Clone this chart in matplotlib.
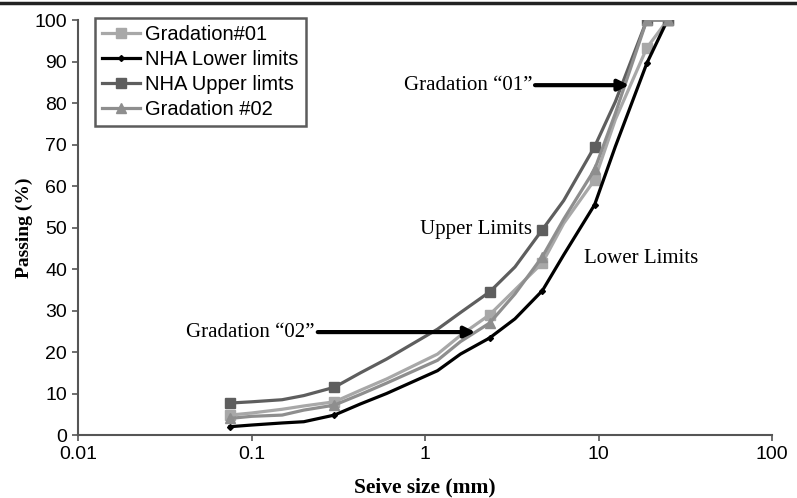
import matplotlib.pyplot as plt
from matplotlib.lines import Line2D

# sieve sizes (mm) and passing (%)
sieve = [0.075, 0.1, 0.15, 0.2, 0.3, 0.425, 0.6, 1.18, 1.6, 2.36, 3.3, 4.75, 6.3, 9.5, 12.5, 19, 25]
marked = [0, 4, 9, 11, 13, 15, 16]   # points that carry a marker

grad01 = [4.8, 5.3, 6.2, 7.0, 8.0, 10.8, 13.5, 19.5, 24.0, 29.0, 35.0, 41.5, 51.0, 61.5, 76.0, 93.3, 100]
lower = [2.0, 2.4, 2.9, 3.2, 4.8, 7.5, 10.0, 15.5, 19.5, 23.4, 28.0, 34.8, 43.4, 55.5, 69.5, 89.6, 100]
upper = [7.7, 8.0, 8.5, 9.5, 11.5, 15.0, 18.3, 25.5, 29.5, 34.5, 40.5, 49.5, 56.5, 69.5, 80.3, 100, 100]
grad02 = [4.0, 4.5, 4.8, 6.0, 7.2, 9.8, 12.5, 18.0, 22.5, 27.0, 34.0, 43.0, 52.0, 64.0, 77.5, 100, 100]

xticks = [0.01, 0.1, 1, 10, 100]
xtick_labels = ["0.01", "0.1", "1", "10", "100"]
yticks = list(range(0, 101, 10))

plt.rcParams['font.family'] = ['Liberation Sans', 'DejaVu Sans']

fig = plt.figure(figsize=(7.97, 4.98), dpi=100)
ax = fig.add_axes([0.098, 0.1265, 0.8706, 0.8333])

ax.plot(sieve, grad01, color="#a8a8a8", lw=2.3, marker="s", ms=6.5,
        markevery=marked, label="Gradation#01")
ax.plot(sieve, lower, color="black", lw=2.3, marker="D", ms=3,
        markevery=marked, label="NHA Lower limits")
ax.plot(sieve, upper, color="#5e5e5e", lw=2.3, marker="s", ms=6.5,
        markevery=marked, label="NHA Upper limts")
ax.plot(sieve, grad02, color="#8e8e8e", lw=2.3, marker="^", ms=7,
        markevery=marked, label="Gradation #02")

ax.set_xscale("log")
ax.set_xlim(0.01, 100)
ax.set_ylim(0, 100)
ax.set_xticks(xticks)
ax.set_xticklabels(xtick_labels)
ax.set_yticks(yticks)
ax.minorticks_off()
ax.tick_params(labelsize=14, length=4, width=1.2, color="#555555", pad=4)

for s in ["top", "right"]:
    ax.spines[s].set_visible(False)
for s in ["left", "bottom"]:
    ax.spines[s].set_color("#555555")
    ax.spines[s].set_linewidth(1.5)

ax.set_xlabel("Seive size (mm)", family="Liberation Serif", fontweight="bold", fontsize=15.5, labelpad=10)
ax.set_ylabel("Passing (%)", family="Liberation Serif", fontweight="bold", fontsize=14, labelpad=1)

leg = ax.legend(loc="upper left", bbox_to_anchor=(0.024, 1.005), fontsize=14.5, frameon=True,
                fancybox=False, handlelength=1.9, handletextpad=0.25, labelspacing=0.3,
                borderpad=0.35, borderaxespad=0)
leg.get_frame().set_edgecolor("#333333")
leg.get_frame().set_linewidth(1.8)

serif = dict(family="Liberation Serif", fontsize=15)
arrow = dict(arrowstyle="-|>", color="black", lw=3, mutation_scale=16, shrinkA=0, shrinkB=0)
ax.annotate("Gradation \u201c01\u201d", xy=(15.0, 84.3), xytext=(4.15, 84.3),
            ha="right", va="center", arrowprops=arrow, **serif)
ax.annotate("Gradation \u201c02\u201d", xy=(1.95, 24.8), xytext=(0.232, 24.8),
            ha="right", va="center", arrowprops=arrow, **serif)
ax.text(0.935, 49.6, "Upper Limits", ha="left", va="center", **serif)
ax.text(8.2, 42.6, "Lower Limits", ha="left", va="center", **serif)

fig.add_artist(Line2D([0, 1], [0.993, 0.993], color="#222222", lw=2.5))

fig.savefig("out.png", dpi=100)
